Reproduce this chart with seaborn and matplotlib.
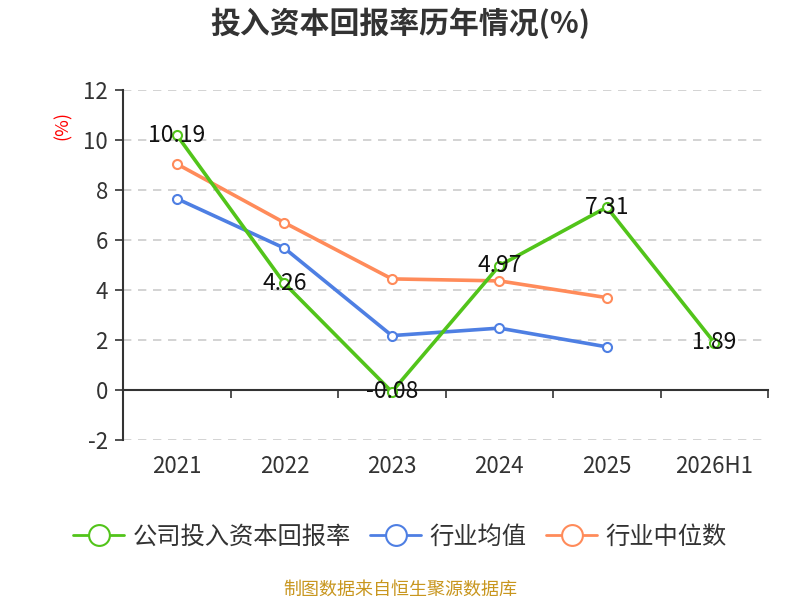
import matplotlib
matplotlib.use("Agg")
import matplotlib.pyplot as plt
import matplotlib.transforms as mtransforms
from matplotlib.lines import Line2D
import numpy as np
import pandas as pd
import seaborn as sns

years = ["2021", "2022", "2023", "2024", "2025", "2026H1"]
company_roic = [10.19, 4.26, -0.08, 4.97, 7.31, 1.89]
industry_mean = [7.65, 5.67, 2.17, 2.47, 1.72, np.nan]
industry_median = [9.04, 6.69, 4.44, 4.36, 3.69, np.nan]

series_names = ["公司投入资本回报率", "行业均值", "行业中位数"]
colors = ["#52C41A", "#4E7FE3", "#FF8B5A"]

sns.set_style("white")
plt.rcParams["font.family"] = ["Noto Sans CJK SC", "DejaVu Sans"]
plt.rcParams["axes.unicode_minus"] = False

rows = []
for name, vals in zip(series_names, [company_roic, industry_mean, industry_median]):
    for i, v in enumerate(vals):
        rows.append({"idx": i, "value": v, "series": name})
df = pd.DataFrame(rows).dropna()

fig = plt.figure(figsize=(8, 6), dpi=100)
ax = fig.add_axes([0.154, 0.267, 0.806, 0.583])

# draw the later series first so the company line sits on top
for name in series_names[::-1]:
    c = colors[series_names.index(name)]
    sns.lineplot(data=df[df["series"] == name], x="idx", y="value", ax=ax,
                 color=c, linewidth=2.6, marker="o", markersize=6.5,
                 markerfacecolor="white", markeredgecolor=c, markeredgewidth=1.5,
                 legend=False, zorder=3 if name == series_names[0] else 2)

for i, v in enumerate(company_roic):
    ax.text(i, v, f"{v:.2f}", ha="center", va="center", fontsize=16.5,
            color="#111111", zorder=5)

ax.set_xlim(-0.5, len(years) - 0.5)
ax.set_ylim(-2, 12)
ax.set_yticks(np.arange(-2, 13, 2))
ax.tick_params(axis="y", labelsize=16, labelcolor="#333333", length=6,
               width=1.2, color="#333333", pad=5, left=True)
ax.yaxis.grid(True, linestyle=(0, (5, 4)), color="#cccccc", linewidth=1.2)
ax.set_axisbelow(True)

for s in ["top", "right"]:
    ax.spines[s].set_visible(False)
ax.spines["left"].set_color("#333333")
ax.spines["left"].set_linewidth(1.5)
ax.spines["bottom"].set_position(("data", 0))
ax.spines["bottom"].set_color("#333333")
ax.spines["bottom"].set_linewidth(1.5)

ax.set_xticks(np.arange(-0.5, len(years), 1.0))
ax.set_xticklabels([])
ax.tick_params(axis="x", direction="out", length=6, width=1.2,
               color="#333333", bottom=True)
trans = mtransforms.blended_transform_factory(ax.transData, ax.transAxes)
for i, y in enumerate(years):
    ax.text(i, -0.043, y, transform=trans, ha="center", va="top",
            fontsize=16, color="#333333")

ax.set_xlabel("")
ax.set_ylabel("")
fig.text(0.078, 0.79, "(%)", rotation=90, color="red", fontsize=13,
         ha="center", va="center")

fig.text(0.5, 0.962, "投入资本回报率历年情况(%)", ha="center", va="center",
         fontsize=21.5, fontweight="bold", color="#333333")

handles = [Line2D([0], [0], color=c, linewidth=2, marker="o", markersize=15,
                  markerfacecolor="white", markeredgecolor=c, markeredgewidth=1.5)
           for c in colors]
fig.legend(handles, series_names, loc="center", bbox_to_anchor=(0.5, 0.105),
           ncol=3, frameon=False, fontsize=17.5, handlelength=2.1,
           handletextpad=0.35, columnspacing=0.8, labelcolor="#333333")

fig.text(0.5, 0.018, "制图数据来自恒生聚源数据库", ha="center", va="center",
         fontsize=13, color="#C8961E")

fig.savefig("out.png", dpi=100)
